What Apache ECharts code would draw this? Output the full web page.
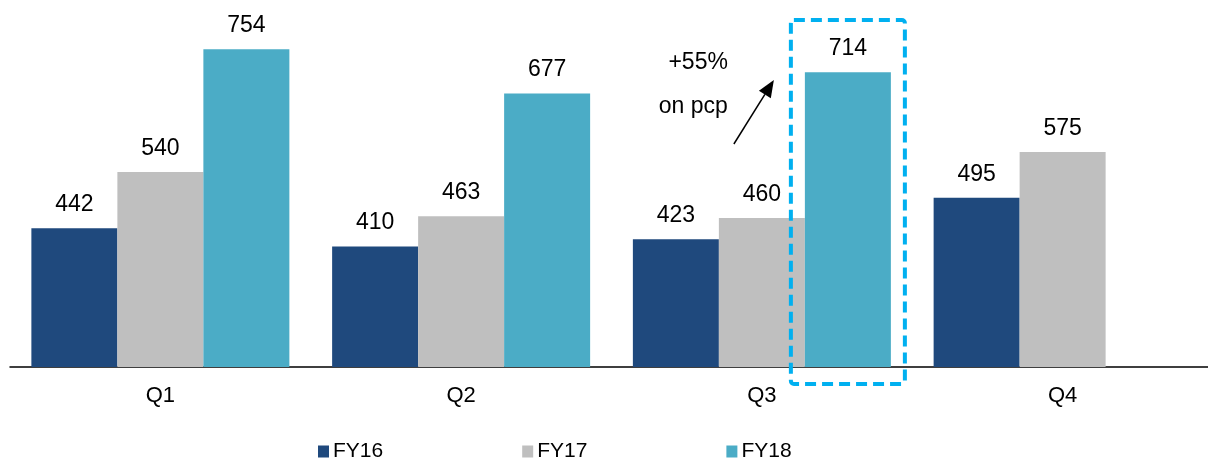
<!DOCTYPE html>
<html>
<head>
<meta charset="utf-8">
<script src="https://cdn.jsdelivr.net/npm/echarts@6/dist/echarts.min.js"></script>
<style>
html,body{margin:0;padding:0;background:#fff;}
#chart{width:1208px;height:461px;}
</style>
</head>
<body>
<div id="chart"></div>
<script>
const categories = ['Q1', 'Q2', 'Q3', 'Q4'];
const seriesNames = ['FY16', 'FY17', 'FY18'];
const fy16 = [442, 410, 423, 495];
const fy17 = [540, 463, 460, 575];
const fy18 = [754, 677, 714, '-'];
const colors = ['#1F497D', '#BFBFBF', '#4BACC6'];
const annotationLines = ['+55%', 'on pcp'];
const highlightIndex = 2; // Q3 FY18

const FONT = 'Liberation Sans, Arial, sans-serif';
const chart = echarts.init(document.getElementById('chart'), null, {renderer: 'canvas'});

function mkSeries(name, data, color) {
  return {
    name: name,
    type: 'bar',
    data: data,
    barWidth: 86,
    barGap: '0%',
    itemStyle: {color: color},
    label: {
      show: true,
      position: 'top',
      distance: 12,
      color: '#000',
      fontFamily: FONT,
      fontSize: 23
    },
    emphasis: {disabled: true}
  };
}

chart.setOption({
  animation: false,
  backgroundColor: '#fff',
  grid: {left: 10, width: 1203, top: 23, bottom: 94, containLabel: false, outerBoundsMode: 'none'},
  legend: {
    data: seriesNames,
    left: 318,
    top: 441,
    padding: 0,
    icon: 'rect',
    itemWidth: 11,
    itemHeight: 12,
    itemGap: 139,
    textStyle: {color: '#000', fontFamily: FONT, fontSize: 21, padding: [0, 0, 0, -1]}
  },
  xAxis: {
    type: 'category',
    data: categories,
    axisLine: {lineStyle: {color: '#000', width: 1.5}},
    axisTick: {show: false},
    axisLabel: {color: '#000', fontFamily: FONT, fontSize: 22, margin: 18}
  },
  yAxis: {
    type: 'value',
    min: 200,
    max: 800,
    show: false,
    splitLine: {show: false}
  },
  series: [
    mkSeries(seriesNames[0], fy16, colors[0]),
    mkSeries(seriesNames[1], fy17, colors[1]),
    mkSeries(seriesNames[2], fy18, colors[2])
  ]
});

// Annotation: dashed box around highlighted bar, arrow and text
const layout = chart.getModel().getSeriesByIndex(2).getData().getItemLayout(highlightIndex);
const bx = layout.x, bw = layout.width;
const baseY = chart.convertToPixel({yAxisIndex: 0}, 200);
const boxLeft = bx - 14, boxRight = bx + bw + 14;
const boxTop = 20, boxBottom = baseY + 17;
const ax1 = boxLeft - 57, ay1 = 144, ax2 = boxLeft - 17, ay2 = 80;
const ang = Math.atan2(ay2 - ay1, ax2 - ax1);
const hl = 17, hw = 7;
const hx = ax2 - hl * Math.cos(ang), hy = ay2 - hl * Math.sin(ang);
const px = -Math.sin(ang), py = Math.cos(ang);

chart.setOption({
  graphic: [
    {
      type: 'rect',
      shape: {x: boxLeft, y: boxTop, width: boxRight - boxLeft, height: boxBottom - boxTop, r: 3},
      style: {fill: null, stroke: '#00B0F0', lineWidth: 4, lineDash: [11, 6]},
      z: 10
    },
    {
      type: 'line',
      shape: {x1: ax1, y1: ay1, x2: hx, y2: hy},
      style: {stroke: '#000', lineWidth: 1.5},
      z: 10
    },
    {
      type: 'polygon',
      shape: {points: [[ax2, ay2], [hx + px * hw, hy + py * hw], [hx - px * hw, hy - py * hw]]},
      style: {fill: '#000'},
      z: 10
    },
    {
      type: 'text',
      x: boxLeft - 63, y: 63,
      style: {text: annotationLines[0], fontFamily: FONT, fontSize: 23, fill: '#000', align: 'right', verticalAlign: 'middle'},
      z: 10
    },
    {
      type: 'text',
      x: boxLeft - 63, y: 107,
      style: {text: annotationLines[1], fontFamily: FONT, fontSize: 23, fill: '#000', align: 'right', verticalAlign: 'middle'},
      z: 10
    }
  ]
});
</script>
</body>
</html>
